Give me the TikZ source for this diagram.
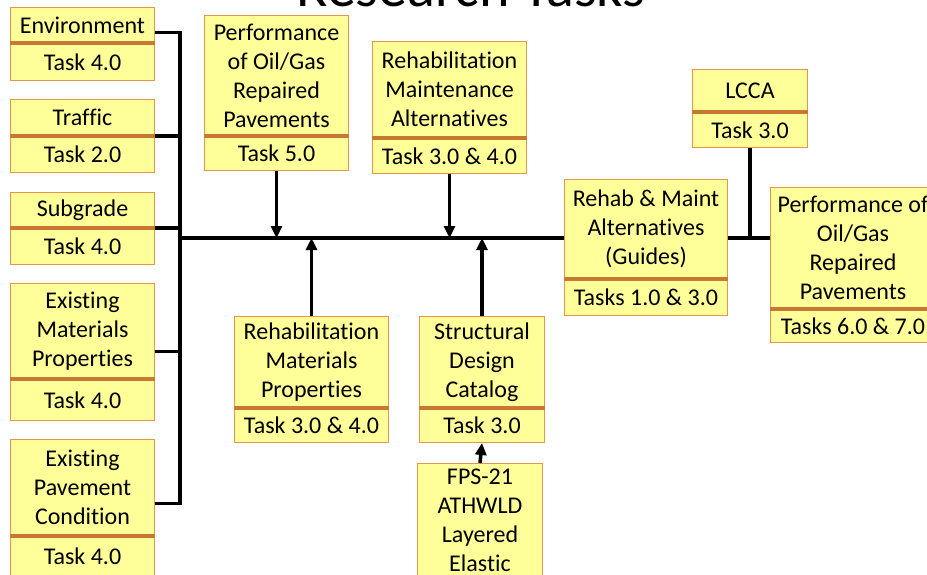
\documentclass[tikz,border=0pt]{standalone}
\usepackage{fontspec}
\setmainfont{Carlito}[Ligatures={NoCommon}]
\usetikzlibrary{positioning, arrows.meta}

\definecolor{boxfill}{RGB}{255,255,153}
\definecolor{boxedge}{RGB}{228,150,75}
\definecolor{divline}{RGB}{200,120,50}

\tikzset{
  part/.style={draw=boxedge, fill=boxfill, line width=1pt, align=center, inner sep=2pt, minimum width=#1},
  head/.style={part=#1, anchor=north west},
  divider/.style={draw=divline, line width=3.5pt},
  wire/.style={line width=3.5pt},
  arr/.style={line width=3.5pt, -{Triangle[length=12pt,width=11pt]}},
}

\begin{document}
\begin{tikzpicture}[x=1pt, y=-1pt, font=\fontsize{24}{29}\selectfont]
            \useasboundingbox (0,0) rectangle (927,574);
            \clip (0,0) rectangle (927,574);

            \node[font=\fontsize{58}{60}\selectfont, anchor=base] (title) at (471,6) {Research Tasks};

            % left column
            \node[head=144pt, minimum height=35pt] (envT) at (10,7) {Environment};
            \node[part=144pt, minimum height=37pt, below=0pt of envT] (envK) {Task 4.0};
            \node[head=144pt, minimum height=36pt] (trafT) at (10,99) {Traffic};
            \node[part=144pt, minimum height=36pt, below=0pt of trafT] (trafK) {Task 2.0};
            \node[head=144pt, minimum height=35pt] (subT) at (10,192) {Subgrade};
            \node[part=144pt, minimum height=36pt, below=0pt of subT] (subK) {Task 4.0};
            \node[head=144pt, minimum height=95pt] (empT) at (10,283) {Existing\\Materials\\Properties};
            \node[part=144pt, minimum height=41pt, below=0pt of empT] (empK) {Task 4.0};
            \node[head=144pt, minimum height=96pt] (epcT) at (10,439) {Existing\\Pavement\\Condition};
            \node[part=144pt, minimum height=40pt, below=0pt of epcT] (epcK) {Task 4.0};

            % top row
            \node[head=144pt, minimum height=120pt] (oilT) at (204,15) {Performance\\of Oil/Gas\\Repaired\\Pavements};
            \node[part=144pt, minimum height=34pt, below=0pt of oilT] (oilK) {Task 5.0};
            \node[head=154pt, minimum height=96pt] (rmaT) at (372,41) {Rehabilitation\\Maintenance\\Alternatives};
            \node[part=154pt, minimum height=35pt, below=0pt of rmaT] (rmaK) {Task 3.0 \& 4.0};
            \node[head=115pt, minimum height=42pt] (lccaT) at (692,69) {LCCA};
            \node[part=115pt, minimum height=35pt, below=0pt of lccaT] (lccaK) {Task 3.0};

            % bottom row
            \node[head=154pt, minimum height=91pt] (rmpT) at (234,316) {Rehabilitation\\Materials\\Properties};
            \node[part=154pt, minimum height=34pt, below=0pt of rmpT] (rmpK) {Task 3.0 \& 4.0};
            \node[head=125pt, minimum height=91pt] (sdcT) at (419,316) {Structural\\Design\\Catalog};
            \node[part=125pt, minimum height=34pt, below=0pt of sdcT] (sdcK) {Task 3.0};
            \node[head=125pt, inner ysep=5pt] (fpsT) at (417,463) {FPS-21\\ATHWLD\\Layered\\Elastic};

            % outputs
            \node[head=163pt, minimum height=99pt] (guideT) at (564,179) {Rehab \& Maint\\Alternatives\\(Guides)};
            \node[part=163pt, minimum height=36pt, below=0pt of guideT] (guideK) {Tasks 1.0 \& 3.0};
            \node[head=165pt, minimum height=121pt] (perfT) at (770,187) {Performance of\\Oil/Gas\\Repaired\\Pavements};
            \node[part=165pt, minimum height=33pt, below=0pt of perfT] (perfK) {Tasks 6.0 \& 7.0};

            \foreach \bx in {env,traf,sub,emp,epc,oil,rma,lcca,rmp,sdc,guide,perf}
                \draw[divider] (\bx T.south west) -- (\bx T.south east);

            \coordinate (bus) at (180,238);
            \draw[wire] ([yshift=-7.5pt]envT.east) -| (bus);
            \draw[wire] (trafT.south east) -| (bus);
            \draw[wire] (subT.south east) -| (bus);
            \draw[wire] ([yshift=-20.5pt]empT.east) -| (bus);
            \draw[wire] ([yshift=-16pt]epcT.east) -| (bus);

            \draw[wire] (bus) -- (guideT.west |- bus);
            \draw[wire] (guideT.east |- bus) -- (perfT.west |- bus);
            \draw[wire] (lccaK.south) -- (lccaK.south |- bus);

            \draw[arr] (oilK.south) -- (oilK.south |- bus);
            \draw[arr] (rmaK.south) -- (rmaK.south |- bus);
            \draw[arr] (rmpT.north) -- (rmpT.north |- bus);
            \draw[arr] (sdcT.north) -- (sdcT.north |- bus);
            \draw[arr] (fpsT.north) -- (sdcK.south);
        \end{tikzpicture}
\end{document}
